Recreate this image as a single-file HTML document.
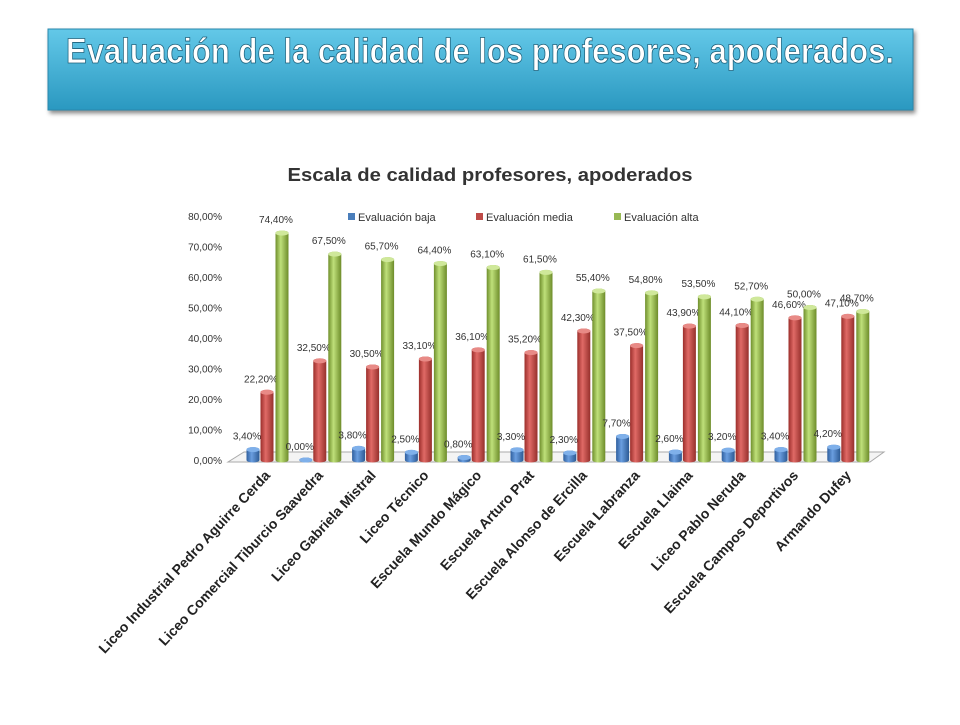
<!DOCTYPE html>
<html><head><meta charset="utf-8"><style>
body{margin:0;background:#fff;width:960px;height:720px;overflow:hidden;font-family:"Liberation Sans",sans-serif}
</style></head><body>
<svg width="960" height="720" xmlns="http://www.w3.org/2000/svg">
<defs>
<linearGradient id="ban" x1="0" y1="0" x2="0" y2="1"><stop offset="0" stop-color="#63c8e8"/><stop offset="1" stop-color="#2a98c0"/></linearGradient>
<linearGradient id="gb" x1="0" x2="1"><stop offset="0" stop-color="#2f5f9e"/><stop offset="0.4" stop-color="#6a9ee0"/><stop offset="1" stop-color="#2c5a94"/></linearGradient>
<linearGradient id="gr" x1="0" x2="1"><stop offset="0" stop-color="#9b2e2b"/><stop offset="0.4" stop-color="#e06a66"/><stop offset="1" stop-color="#96302c"/></linearGradient>
<linearGradient id="gg" x1="0" x2="1"><stop offset="0" stop-color="#6f8f2c"/><stop offset="0.4" stop-color="#bfe07a"/><stop offset="1" stop-color="#6d8c2a"/></linearGradient>
</defs>
<rect x="48" y="29" width="865" height="81" fill="url(#ban)" stroke="#2a88ad" stroke-width="1" style="filter:drop-shadow(2px 3px 2px rgba(0,0,0,0.45))"/>
<text x="480" y="63" text-anchor="middle" font-size="35" font-weight="bold" fill="#fff" stroke="#1c5f7a" stroke-width="0.8" textLength="828" lengthAdjust="spacingAndGlyphs">Evaluación de la calidad de los profesores, apoderados.</text>
<text x="490" y="181" text-anchor="middle" font-size="18" font-weight="bold" fill="#333" textLength="405" lengthAdjust="spacingAndGlyphs">Escala de calidad profesores, apoderados</text>
<g id="legend"></g>
<g id="axis"></g>
<g id="floor"></g>
<g id="bars"></g>
<g id="xl"></g>
</svg>
<script>
const categories=["Liceo Industrial Pedro Aguirre Cerda","Liceo Comercial Tiburcio Saavedra","Liceo Gabriela Mistral","Liceo Técnico","Escuela Mundo Mágico","Escuela Arturo Prat","Escuela Alonso de Ercilla","Escuela Labranza","Escuela Llaima","Liceo Pablo Neruda","Escuela Campos Deportivos","Armando Dufey"];
const baja=[3.4,0.0,3.8,2.5,0.8,3.3,2.3,7.7,2.6,3.2,3.4,4.2];
const media=[22.2,32.5,30.5,33.1,36.1,35.2,42.3,37.5,43.9,44.1,46.6,47.1];
const alta=[74.4,67.5,65.7,64.4,63.1,61.5,55.4,54.8,53.5,52.7,50.0,48.7];
const ticks=[0,10,20,30,40,50,60,70,80];
const seriesNames=["Evaluación baja","Evaluación media","Evaluación alta"];
const NS="http://www.w3.org/2000/svg";
function el(t,a,p){const e=document.createElementNS(NS,t);for(const k in a)e.setAttribute(k,a[k]);p.appendChild(e);return e;}
const y=v=>460-v*3.05;
const x=i=>267+i*52.8;
const fmt=v=>v.toFixed(2).replace('.',',')+'%';
const axis=document.getElementById('axis');
ticks.forEach(t=>{const e=el('text',{x:222,y:y(t)+4,'text-anchor':'end','font-size':'10',fill:'#333'},axis);e.textContent=fmt(t);

});
const fl=document.getElementById('floor');
const f=el('polygon',{points:'228,462 870,462 884,452 244,452',fill:'#f4f4f4',stroke:'#aaa','stroke-width':'1'},fl);


const bars=document.getElementById('bars');
const series=[baja,media,alta],fills=['url(#gb)','url(#gr)','url(#gg)'],tops=['#7fb0ea','#e88a86','#cfe89a'];
const offs=[-14,0,15];
categories.forEach((c,i)=>{series.forEach((s,k)=>{const cx=x(i)+offs[k],v=s[i],top=y(v),w=13;
const b=el('path',{d:`M${cx-w/2},460 L${cx-w/2},${top} A${w/2},2.5 0 0 1 ${cx+w/2},${top} L${cx+w/2},460 A${w/2},2.5 0 0 1 ${cx-w/2},460 Z`,fill:fills[k]},bars);


const tp=el('ellipse',{cx:cx,cy:top,rx:w/2,ry:2.5,fill:tops[k]},bars);


const lbl=el('text',{x:cx-6,y:top-10,'text-anchor':'middle','font-size':'10',fill:'#333'},bars);
lbl.textContent=fmt(v);

});
const t=el('text',{transform:`translate(${x(i)+4},476) rotate(-47)`,'text-anchor':'end','font-size':'14','font-weight':'bold',fill:'#222'},document.getElementById('xl'));
t.textContent=c;

});
const lg=document.getElementById('legend');const lx=[348,476,614],lc=['#4a7ebb','#be4b48','#98b954'];
seriesNames.forEach((n,k)=>{const r=el('rect',{x:lx[k],y:213,width:7,height:7,fill:lc[k]},lg);


const t=el('text',{x:lx[k]+10,y:221,'font-size':'11',fill:'#333'},lg);t.textContent=n;

});
</script>
</body></html>
